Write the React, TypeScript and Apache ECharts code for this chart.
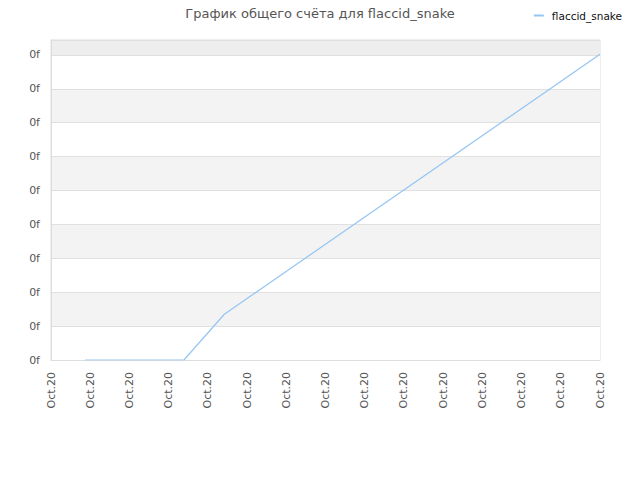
import React, { useEffect, useRef } from "react";
import * as echarts from "echarts";

const titleText = "График общего счёта для flaccid_snake";
const seriesName = "flaccid_snake";
// x positions in tick units (0..14)
const xValues = [0.87, 3.39, 4.42, 14];
// y values in grid units (0..9)
const yValues = [0, 0, 1.35, 9.02];
const xTickLabels = [
  "Oct.20", "Oct.20", "Oct.20", "Oct.20", "Oct.20", "Oct.20", "Oct.20", "Oct.20",
  "Oct.20", "Oct.20", "Oct.20", "Oct.20", "Oct.20", "Oct.20", "Oct.20",
];
const yTickLabel = "0f";

export default function App() {
  const ref = useRef<HTMLDivElement>(null);
  useEffect(() => {
    if (!ref.current) return;
    const chart = echarts.init(ref.current, null, { renderer: "svg" });
    const font = "DejaVu Sans";
    chart.setOption({
      animation: false,
      backgroundColor: "#ffffff",
      title: {
        text: titleText,
        left: "center",
        top: 6,
        padding: 0,
        textStyle: { fontFamily: font, fontSize: 13, lineHeight: 15, fontWeight: "normal", color: "#555555" },
      },
      legend: {
        right: 13,
        top: 5,
        icon: "rect",
        itemWidth: 10,
        itemHeight: 2,
        itemGap: 5,
        textStyle: { fontFamily: font, fontSize: 10.5, color: "#111111", padding: [0, 0, 0, 3] },
        data: [seriesName],
      },
      grid: {
        left: 51,
        right: 40,
        top: 40,
        bottom: 120,
        show: true,
        borderColor: "#dddddd",
        borderWidth: 1,
        containLabel: false,
      },
      xAxis: {
        type: "value",
        min: 0,
        max: xTickLabels.length - 1,
        interval: 1,
        axisLine: { show: true, lineStyle: { color: "#dddddd" } },
        axisTick: { show: false },
        splitLine: { show: false },
        axisLabel: {
          rotate: 90,
          margin: 12,
          fontFamily: font,
          fontSize: 11,
          color: "#555555",
          formatter: (v: number) => xTickLabels[Math.round(v)] ?? "",
        },
      },
      yAxis: {
        type: "value",
        min: 0,
        max: 9.44,
        interval: 1,
        axisLine: { show: true, lineStyle: { color: "#dddddd" } },
        axisTick: { show: false },
        axisLabel: {
          showMaxLabel: false,
          margin: 11,
          fontFamily: font,
          fontSize: 11,
          color: "#555555",
          formatter: () => yTickLabel,
        },
        splitLine: { show: true, lineStyle: { color: "#e0e0e0" } },
        splitArea: {
          show: true,
          areaStyle: {
            color: [
              "#ffffff", "#f3f3f3", "#ffffff", "#f3f3f3", "#ffffff",
              "#f3f3f3", "#ffffff", "#f3f3f3", "#ffffff", "#eeeeee",
            ],
          },
        },
      },
      series: [
        {
          name: seriesName,
          type: "line",
          data: xValues.map((x, i) => [x, yValues[i]]),
          showSymbol: false,
          symbol: "none",
          lineStyle: { color: "#94c5f3", width: 1.2 },
          itemStyle: { color: "#94c5f3" },
        },
      ],
    });
    return () => chart.dispose();
  }, []);
  return <div ref={ref} style={{ width: 640, height: 480, margin: -8 }} />;
}
